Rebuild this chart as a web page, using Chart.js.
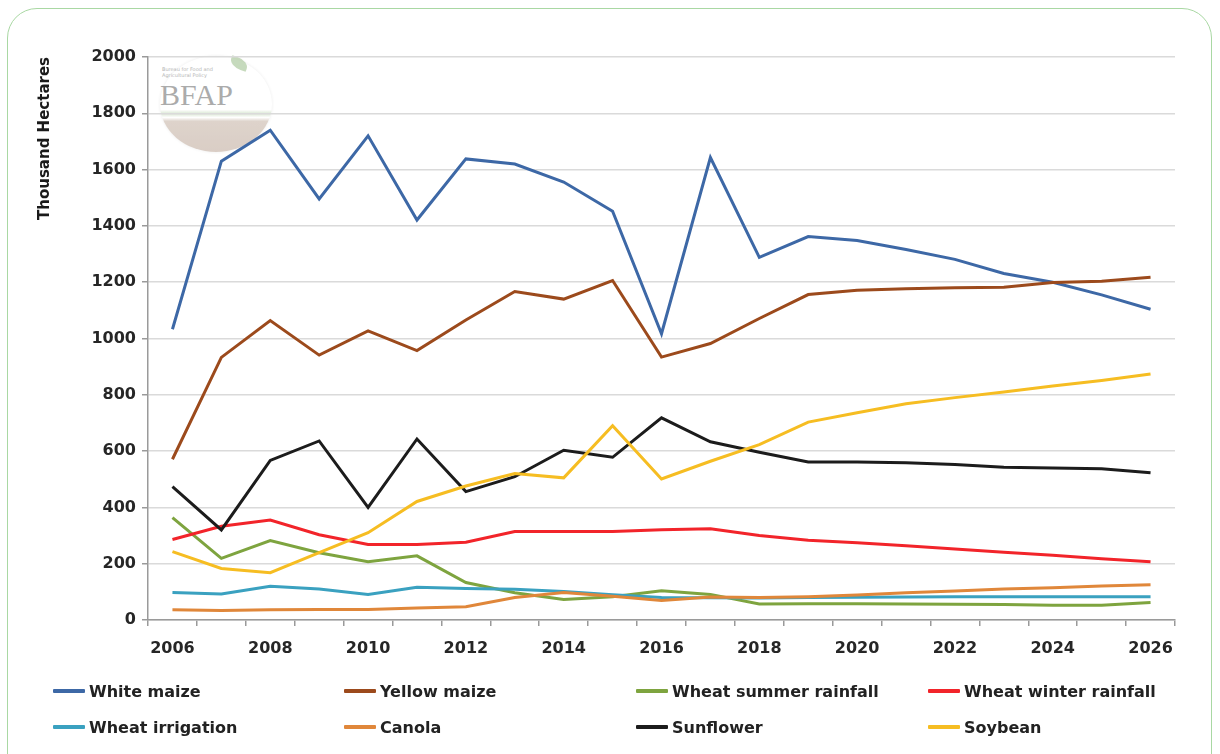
<!DOCTYPE html>
<html>
<head>
<meta charset="utf-8">
<script src="https://cdn.jsdelivr.net/npm/chart.js@4.4.1/dist/chart.umd.min.js"></script>
<style>
html,body{margin:0;padding:0;background:#fff;width:1220px;height:754px;overflow:hidden;font-family:"DejaVu Sans",sans-serif;}
#frame{position:absolute;left:7px;top:8px;width:1205px;height:800px;border:1.5px solid #a9d8a3;border-radius:30px;box-sizing:border-box;}
#logo{position:absolute;left:158px;top:50px;width:120px;height:105px;opacity:0.75;}
#logo .circ{position:absolute;left:2px;top:6px;width:112px;height:96px;border-radius:50%;
  background:linear-gradient(to bottom,rgba(255,255,255,0) 0%,rgba(255,255,255,0) 56%,rgba(150,190,130,0.45) 60%,rgba(255,255,255,0.6) 64%,rgba(175,150,130,0.55) 68%,rgba(165,135,115,0.55) 100%);
  box-shadow:0 0 3px rgba(0,0,0,0.1);}
#logo .txt{position:absolute;left:2px;top:28px;font:30px "Liberation Serif",serif;color:#8f8f8f;}
#logo .small{position:absolute;left:4px;top:16px;font:5px "DejaVu Sans";color:#9a9a9a;line-height:6px;}
#logo .leaf{position:absolute;left:72px;top:8px;width:18px;height:11px;border-radius:0 70% 0 70%;background:rgba(140,180,120,0.65);transform:rotate(20deg);}
#wrap{position:absolute;left:0;top:0;width:1220px;height:680px;}
#legend{position:absolute;left:0;top:0;width:1220px;height:754px;pointer-events:none;}
.item{position:absolute;display:flex;align-items:center;font:bold 16px "DejaVu Sans",sans-serif;color:#222;white-space:nowrap;height:20px;}
.swatch{width:32px;height:4px;margin-right:4px;border-radius:1px;}
</style>
</head>
<body>
<div id="frame"></div>
<div id="logo"><div class="circ"></div><div class="leaf"></div><div class="small">Bureau for Food and<br>Agricultural Policy</div><div class="txt">BFAP</div></div>
<div id="wrap"><canvas id="c" width="1220" height="680"></canvas></div>
<div id="legend"></div>
<script>
const years = ['2006','2007','2008','2009','2010','2011','2012','2013','2014','2015','2016','2017','2018','2019','2020','2021','2022','2023','2024','2025','2026'];
const yTicks = [0,200,400,600,800,1000,1200,1400,1600,1800,2000];

const whiteMaize      = [1033,1630,1740,1496,1720,1421,1638,1620,1556,1452,1017,1643,1288,1362,1348,1316,1281,1231,1200,1155,1104];
const yellowMaize     = [571,933,1064,941,1027,957,1066,1167,1140,1206,934,982,1071,1156,1171,1177,1180,1182,1199,1203,1218];
const wheatSummer     = [364,219,282,239,207,228,133,97,73,83,104,91,57,58,58,57,56,55,52,52,62];
const wheatWinter     = [286,333,355,303,268,268,276,314,314,314,321,324,300,283,274,264,252,241,230,218,207];
const wheatIrrigation = [98,92,120,110,91,116,112,109,101,90,80,79,78,80,81,82,83,83,83,83,83];
const canola          = [36,34,36,37,37,43,47,80,98,84,69,82,80,83,89,97,103,110,115,121,125];
const sunflower       = [474,320,567,636,400,643,456,509,603,578,718,633,596,561,561,559,552,543,540,537,523];
const soybean         = [243,183,168,239,310,421,476,520,505,690,501,564,623,703,736,768,790,810,831,851,874];

const seriesNames  = ['White maize','Yellow maize','Wheat summer rainfall','Wheat winter rainfall','Wheat irrigation','Canola','Sunflower','Soybean'];
const seriesData   = [whiteMaize,yellowMaize,wheatSummer,wheatWinter,wheatIrrigation,canola,sunflower,soybean];
const seriesColors = ['#3d68a6','#9c4a1c','#7ea43f','#f2242a','#3aa1c0','#e0873a','#1c1c1c','#f6bd22'];

const tickFont = {family:'"DejaVu Sans", sans-serif', size:16, weight:'bold'};

const datasets = seriesNames.map((n,i)=>({
  label:n, data:seriesData[i], borderColor:seriesColors[i], backgroundColor:seriesColors[i],
  borderWidth:3, pointRadius:0, tension:0, fill:false
}));

new Chart(document.getElementById('c').getContext('2d'), {
  type:'line',
  data:{labels:years, datasets: datasets.slice().reverse()},
  options:{
    responsive:false, animation:false,
    layout:{padding:{left:0,right:45,top:57,bottom:0}},
    plugins:{legend:{display:false},tooltip:{enabled:false}},
    scales:{
      x:{
        offset:true,
        grid:{offset:true,drawOnChartArea:false,tickLength:6,color:'#9a9a9a',lineWidth:1.5},
        border:{color:'#9a9a9a',width:1.5},
        ticks:{autoSkip:false,maxRotation:0,minRotation:0,padding:13,color:'#262626',font:tickFont,
          callback:(v,i)=> i%2===0 ? years[i] : ''},
        afterFit(s){ s.height = 60; }
      },
      y:{
        min:0,max:2000,
        afterBuildTicks(s){ s.ticks = yTicks.map(v=>({value:v})); },
        grid:{color:'#dadada',lineWidth:1.5,tickLength:6,tickColor:'#9a9a9a'},
        border:{color:'#9a9a9a',width:1.5},
        ticks:{padding:6,color:'#262626',font:tickFont,callback:(v)=>String(v)},
        title:{display:true,text:'Thousand Hectares',align:'end',color:'#1a1a1a',
          font:{family:'"DejaVu Sans", sans-serif',size:15,weight:'bold'},padding:{top:36,bottom:0}},
        afterFit(s){ s.width = 148; }
      }
    }
  }
});

// HTML legend built from the series arrays
const colX = [53,344,636,928];
const rowY = [681,717];
const leg = document.getElementById('legend');
seriesNames.forEach((n,i)=>{
  const d = document.createElement('div');
  d.className='item';
  d.style.left = colX[i%4]+'px';
  d.style.top = rowY[Math.floor(i/4)]+'px';
  const sw = document.createElement('span'); sw.className='swatch'; sw.style.background=seriesColors[i];
  const t = document.createElement('span'); t.textContent=n;
  d.appendChild(sw); d.appendChild(t); leg.appendChild(d);
});
</script>
</body>
</html>
